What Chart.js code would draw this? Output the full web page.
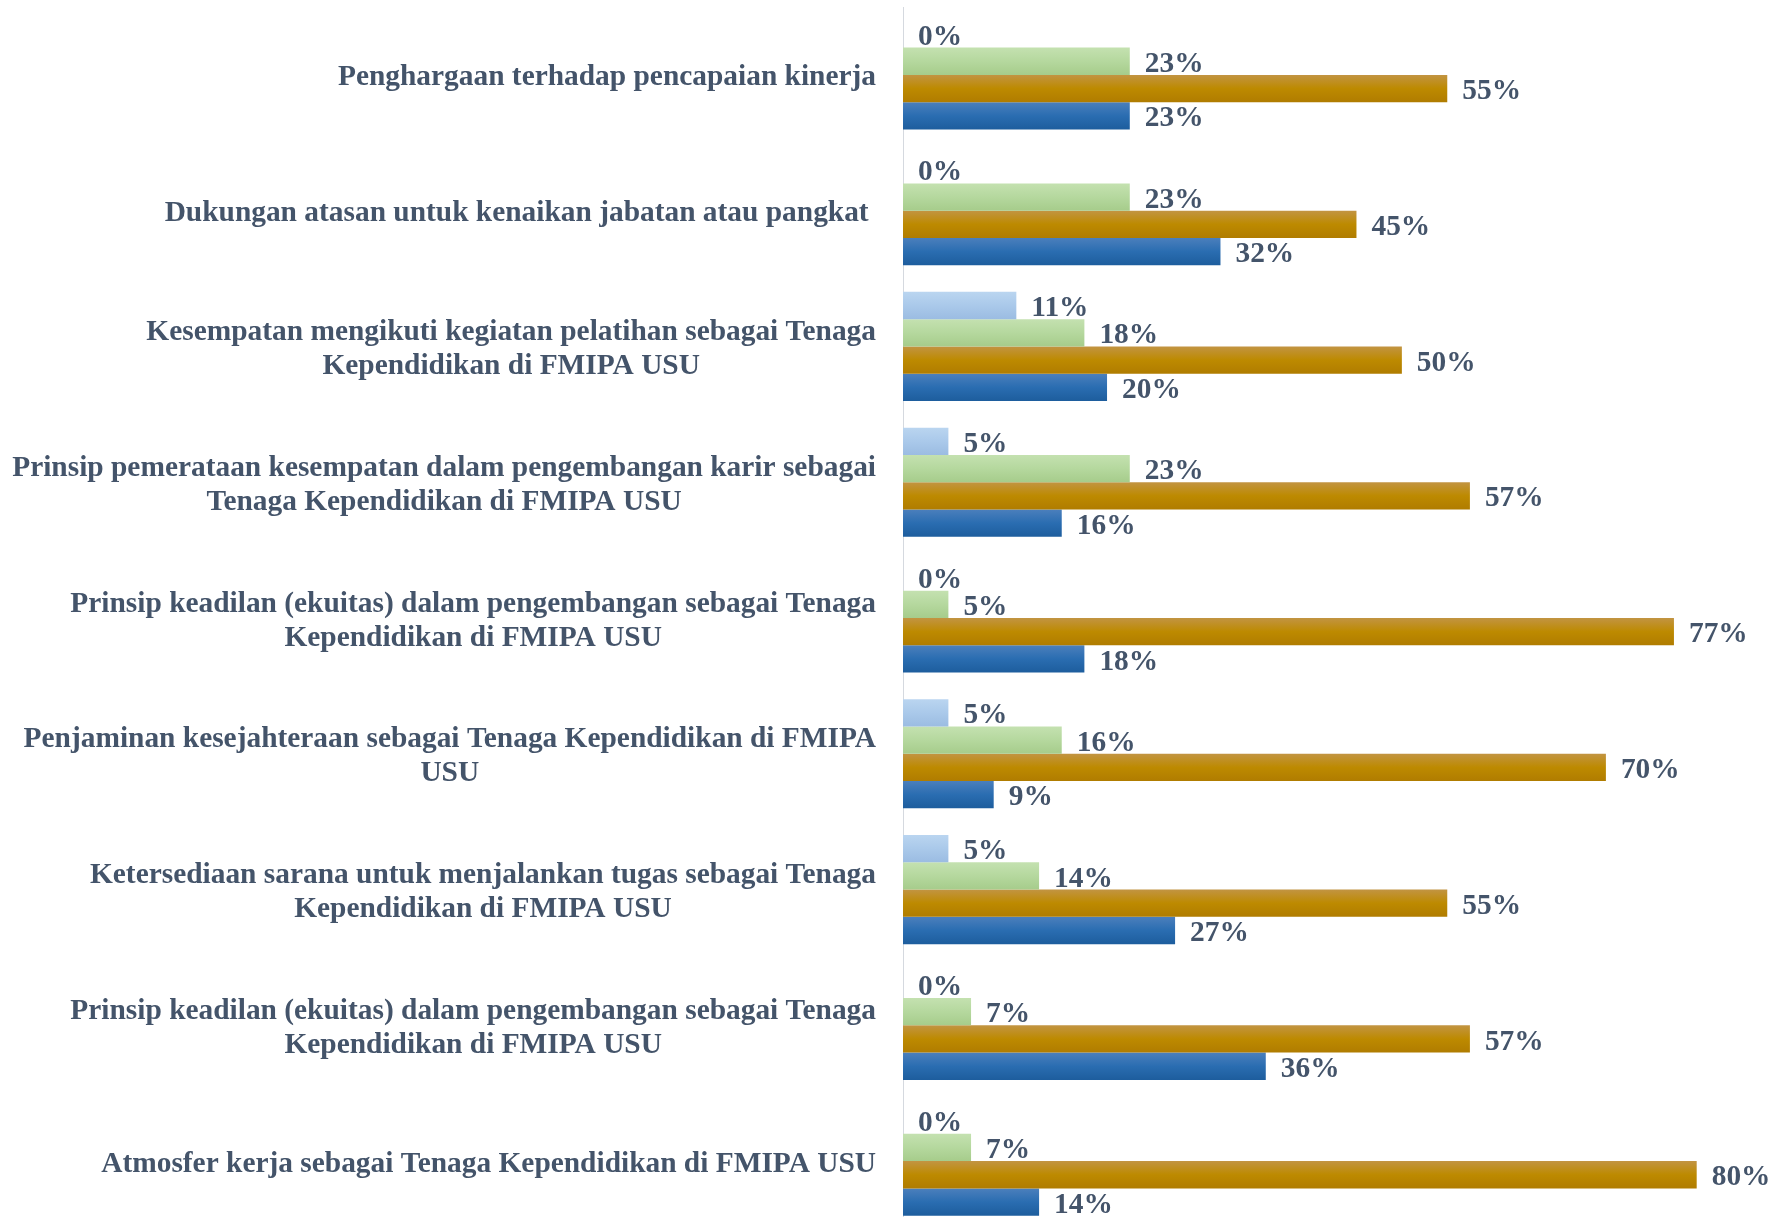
<!DOCTYPE html>
<html>
<head>
<meta charset="utf-8">
<script src="https://cdn.jsdelivr.net/npm/chart.js@4"></script>
<style>
	html, body { margin: 0; padding: 0; background: #fff; overflow: hidden; }
	#wrap { position: relative; width: 1781px; height: 1229px; }
</style>
</head>
<body>
<div id="wrap"><canvas id="myChart"></canvas></div>
<script>
const categories = [
	['Penghargaan terhadap pencapaian kinerja'],
	['Dukungan atasan untuk kenaikan jabatan atau pangkat '],
	['Kesempatan mengikuti kegiatan pelatihan sebagai Tenaga', 'Kependidikan di FMIPA USU'],
	['Prinsip pemerataan kesempatan dalam pengembangan karir sebagai', 'Tenaga Kependidikan di FMIPA USU'],
	['Prinsip keadilan (ekuitas) dalam pengembangan sebagai Tenaga', 'Kependidikan di FMIPA USU'],
	['Penjaminan kesejahteraan sebagai Tenaga Kependidikan di FMIPA', 'USU'],
	['Ketersediaan sarana untuk menjalankan tugas sebagai Tenaga', 'Kependidikan di FMIPA USU'],
	['Prinsip keadilan (ekuitas) dalam pengembangan sebagai Tenaga', 'Kependidikan di FMIPA USU'],
	['Atmosfer kerja sebagai Tenaga Kependidikan di FMIPA USU']
]

// persentase per kategori (urutan dari atas ke bawah dalam tiap kelompok)
const seriesLightBlue = [0, 0, 11.36, 4.55, 0, 4.55, 4.55, 0, 0]
const seriesGreen     = [22.73, 22.73, 18.18, 22.73, 4.55, 15.91, 13.64, 6.82, 6.82]
const seriesGold      = [54.55, 45.45, 50, 56.82, 77.27, 70.45, 54.55, 56.82, 79.55]
const seriesBlue      = [22.73, 31.82, 20.45, 15.91, 18.18, 9.09, 27.27, 36.36, 13.64]

const textColor = '#44546A'
const fontFamily = "'Liberation Serif', 'Times New Roman', serif"
const fontSize = 29.4
const lineHeight = 34

const gradients = [
	['#BAD5F0', '#AAC9EA', '#9BBCE2'],
	['#C4E1B0', '#B5D89E', '#A6CC8B'],
	['#C29442', '#BD8A00', '#B07C00'],
	['#4B7FBC', '#2A6DB1', '#1D5D9D']
]

/* gradien tiap batang */
const gradientPlugin = {
	id: 'barGradient',
	afterDatasetsUpdate(chart) {
		const ctx = chart.ctx
		chart.data.datasets.forEach((ds, di) => {
			const stops = gradients[di]
			chart.getDatasetMeta(di).data.forEach(bar => {
				const top = bar.y - bar.height / 2
				const g = ctx.createLinearGradient(0, top, 0, top + bar.height)
				g.addColorStop(0, stops[0])
				g.addColorStop(0.5, stops[1])
				g.addColorStop(1, stops[2])
				bar.options = Object.assign({}, bar.options, { backgroundColor: g })
			})
		})
	}
}

/* label nilai + label kategori */
const labelPlugin = {
	id: 'labels',
	afterDraw(chart) {
		const ctx = chart.ctx
		ctx.save()
		ctx.fillStyle = textColor
		ctx.font = 'bold ' + fontSize + 'px ' + fontFamily
		ctx.textBaseline = 'middle'

		ctx.textAlign = 'left'
		chart.data.datasets.forEach((ds, di) => {
			chart.getDatasetMeta(di).data.forEach((bar, i) => {
				ctx.fillText(Math.round(ds.data[i]) + '%', bar.x + 15, bar.y + 3)
			})
		})

		const yScale = chart.scales.y
		const right = chart.chartArea.left - 27
		ctx.textAlign = 'center'
		categories.forEach((lines, i) => {
			const cy = yScale.getPixelForTick(i)
			const blockW = Math.max(...lines.map(l => ctx.measureText(l).width))
			const cx = right - blockW / 2
			lines.forEach((line, j) => {
				ctx.fillText(line, cx, cy + (j - (lines.length - 1) / 2) * lineHeight + 3)
			})
		})
		ctx.restore()
	}
}

const ctx = document.getElementById('myChart').getContext('2d')
const chart = new Chart(ctx, {
	type: 'bar',
	data: {
		labels: categories,
		datasets: [
			{ label: 'S1', data: seriesLightBlue },
			{ label: 'S2', data: seriesGreen },
			{ label: 'S3', data: seriesGold },
			{ label: 'S4', data: seriesBlue }
		]
	},
	options: {
		indexAxis: 'y',
		maintainAspectRatio: false,
		responsive: true,
		animation: false,
		events: [],
		layout: { padding: { top: 7, left: 0, right: 0, bottom: 0 } },
		datasets: {
			bar: {
				categoryPercentage: 0.804,
				barPercentage: 1,
				borderWidth: 0
			}
		},
		scales: {
			x: {
				display: false,
				min: 0,
				max: 88
			},
			y: {
				ticks: { display: false },
				grid: { display: false, drawTicks: false },
				border: { display: true, color: '#D5D9DF', width: 1 },
				afterFit(scale) { scale.width = 903 }
			}
		},
		plugins: {
			legend: { display: false },
			tooltip: { enabled: false }
		}
	},
	plugins: [gradientPlugin, labelPlugin]
})
</script>
</body>
</html>
